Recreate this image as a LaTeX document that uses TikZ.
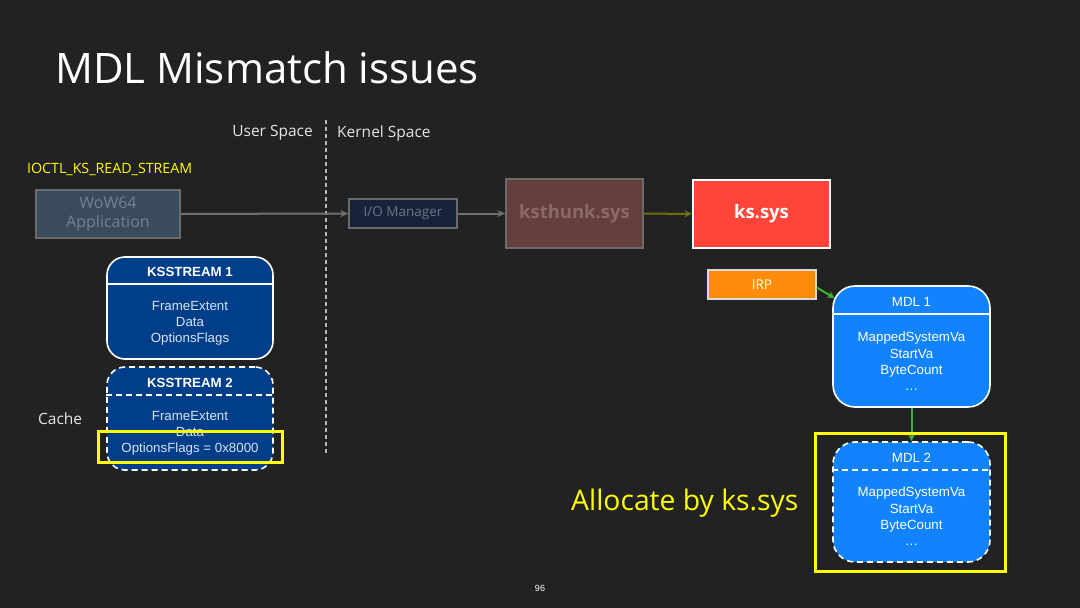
\documentclass[tikz,border=0pt]{standalone}
\usepackage{fontspec}
\setmainfont{Open Sans}
\newfontfamily\arialf{Liberation Sans}
\usetikzlibrary{arrows.meta}
\definecolor{bg}{HTML}{222222}
\definecolor{wowfill}{HTML}{3A4A5F}
\definecolor{wowtext}{HTML}{75818F}
\definecolor{iofill}{HTML}{17233A}
\definecolor{iotext}{HTML}{6C7585}
\definecolor{kstfill}{HTML}{653F3C}
\definecolor{ksttext}{HTML}{8A6A68}
\definecolor{ksred}{HTML}{FF4539}
\definecolor{irporange}{HTML}{FF8C0A}
\definecolor{mdlblue}{HTML}{1283FF}
\definecolor{ksblue}{HTML}{003E8A}
\definecolor{arrgreen}{HTML}{3CB43C}
\definecolor{arrolive}{HTML}{6E6E0A}
\definecolor{arrgray}{HTML}{707070}
\definecolor{boxgray}{HTML}{6B6B6B}
\definecolor{hiyellow}{HTML}{FFFF00}
\definecolor{spacetext}{HTML}{E6E6E6}
\definecolor{bodytext}{HTML}{D8E2F0}
\tikzset{
  sq/.style={draw, line width=1.4pt, minimum width=#1, inner sep=0pt},
  conn/.style={line width=2pt, -{Stealth[length=8pt,width=7pt]}},
  rbox/.style={draw=white, line width=1.6pt, rounded corners=#1, inner sep=0pt},
  dbox/.style={rbox=#1, dash pattern=on 6pt off 4pt},
  hl/.style={draw=hiyellow, line width=3pt},
  arialtxt/.style={font=\arialf\fontsize{13.3}{16.3}\selectfont, text=white, align=center, inner sep=0pt},
}
\begin{document}
\begin{tikzpicture}[x=1pt,y=-1pt]
\useasboundingbox[fill=bg] (0,0) rectangle (1080,608);
% title
\node[anchor=base west, inner sep=0pt, text=white, font=\fontsize{42}{50}\selectfont] (title) at (55,83.3) {MDL Mismatch issues};
% spaces
\node[anchor=east, inner sep=0pt, text=spacetext, font=\fontsize{15.5}{18}\selectfont] (us) at (313,133) {User Space};
\node[anchor=west, inner sep=0pt, text=spacetext, font=\fontsize{15.5}{18}\selectfont] (ksp) at (337,133) {Kernel Space};
\coordinate (divtop) at (326,120);
\coordinate (divbot) at (326,455);
\draw[spacetext!80!black, line width=1.2pt, dash pattern=on 4pt off 3pt] (divtop) -- (divbot);
% ioctl
\node[anchor=west, inner sep=0pt, text=hiyellow, font=\fontsize{14.2}{16}\selectfont] (ioctl) at (27,169) {IOCTL\_KS\_READ\_STREAM};
% top chain
\node[sq=144pt, minimum height=48pt, draw=boxgray, fill=wowfill, text=wowtext, align=center, font=\fontsize{16}{19.5}\selectfont] (wow) at (108,214) {WoW64\\Application};
\node[sq=108pt, minimum height=29pt, draw=boxgray, fill=iofill, text=iotext, font=\fontsize{13.5}{16}\selectfont] (io) at (403,213.5) {I/O Manager};
\node[sq=137pt, minimum height=69pt, draw=boxgray, fill=kstfill, text=ksttext, font=\fontsize{18.5}{22}\selectfont\bfseries] (kst) at (574.5,213.5) {ksthunk.sys};
\node[sq=137pt, minimum height=68pt, draw=white, fill=ksred, text=white, font=\fontsize{18.5}{22}\selectfont\bfseries] (ks) at (761.5,214) {ks.sys};
\draw[conn, arrgray] (wow) -- (io);
\draw[conn, arrgray] (io) -- (kst);
\draw[conn, arrolive] (kst) -- (ks);
% IRP
\node[sq=108pt, minimum height=29pt, draw=white!85!black, fill=irporange, text=white, font=\fontsize{13.5}{16}\selectfont] (irp) at (762,284.5) {IRP};
% MDL 1
\node[rbox=22pt, fill=mdlblue, minimum width=157pt, minimum height=121pt] (mdl1) at (911.5,346.5) {};
\draw[white, line width=1.6pt] (mdl1.west |- 0,314) -- (mdl1.east |- 0,314);
\node[arialtxt] (mdl1h) at (911.5,302) {MDL 1};
\node[arialtxt, anchor=north] (mdl1b) at (911.5,332) {MappedSystemVa\\StartVa\\ByteCount\\\dots};
% MDL 2
\node[dbox=22pt, fill=mdlblue, minimum width=157pt, minimum height=120pt] (mdl2) at (911.5,502) {};
\draw[white, line width=1.6pt, dash pattern=on 6pt off 4pt] (mdl2.west |- 0,470) -- (mdl2.east |- 0,470);
\node[arialtxt] (mdl2h) at (911.5,458) {MDL 2};
\node[arialtxt, anchor=north] (mdl2b) at (911.5,487) {MappedSystemVa\\StartVa\\ByteCount\\\dots};
\coordinate (mdl1in) at (834.5,298);
\draw[conn, arrgreen, -{Stealth[length=7pt,width=7pt]}] ([yshift=-3pt]irp.east) -- (mdl1in);
\draw[conn, arrgreen, -{Stealth[length=7pt,width=7pt]}] (mdl1) -- (mdl2);
\node[hl, minimum width=190pt, minimum height=138pt, inner sep=0pt] (hl2) at (910,502) {};
\node[anchor=west, inner sep=0pt, text=hiyellow, font=\fontsize{28.3}{34}\selectfont] (alloc) at (571,503) {Allocate by ks.sys};
% KSSTREAM 1
\node[rbox=18pt, fill=ksblue, minimum width=166pt, minimum height=102pt] (ks1) at (190,308) {};
\draw[white, line width=1.6pt] (ks1.west |- 0,284) -- (ks1.east |- 0,284);
\node[arialtxt, font=\arialf\bfseries\fontsize{13.3}{16}\selectfont] (ks1h) at (190,272) {KSSTREAM 1};
\node[arialtxt, anchor=north, text=bodytext] (ks1b) at (190,301) {FrameExtent\\Data\\OptionsFlags};
% KSSTREAM 2
\node[dbox=18pt, fill=ksblue, minimum width=166pt, minimum height=103pt] (ks2) at (190,418.5) {};
\draw[white, line width=1.6pt, dash pattern=on 6pt off 4pt] (ks2.west |- 0,395) -- (ks2.east |- 0,395);
\node[arialtxt, font=\arialf\bfseries\fontsize{13.3}{16}\selectfont] (ks2h) at (190,383) {KSSTREAM 2};
\node[arialtxt, anchor=north, text=bodytext] (ks2b) at (190,411) {FrameExtent\\Data\\OptionsFlags = 0x8000};
\node[hl, minimum width=184pt, minimum height=31pt, inner sep=0pt] (hl1) at (190,446.5) {};
\node[anchor=west, inner sep=0pt, text=spacetext, font=\fontsize{15.5}{18}\selectfont] (cache) at (38,418.5) {Cache};
% page number
\node[inner sep=0pt, text=white, font=\arialf\fontsize{9}{11}\selectfont] (pg) at (540,588) {96};
\end{tikzpicture}
\end{document}
